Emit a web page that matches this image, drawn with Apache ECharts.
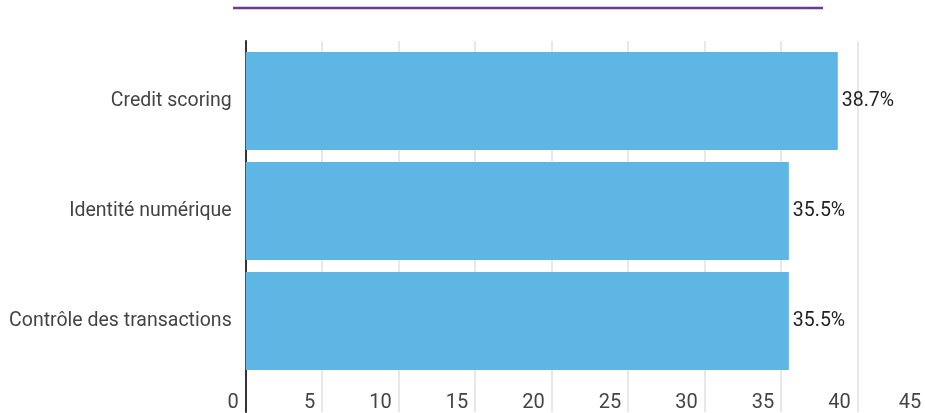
<!DOCTYPE html>
<html><head><meta charset="utf-8">
<script src="https://cdn.jsdelivr.net/npm/echarts@6/dist/echarts.min.js"></script>
<style>html,body{margin:0;padding:0;background:#fff;overflow:hidden}#c{width:935px;height:413px}</style>
</head><body><div id="c"></div>
<script>
const categories = ['Credit scoring', 'Identité numérique', 'Contrôle des transactions'];
const values = [38.7, 35.5, 35.5];
const xTicks = [0, 5, 10, 15, 20, 25, 30, 35, 40, 45];

const chart = echarts.init(document.getElementById('c'), null, {renderer: 'canvas'});
const font = 'Roboto';
chart.setOption({
  animation: false,
  graphic: [{
    type: 'line', shape: {x1: 233, y1: 8, x2: 823, y2: 8},
    style: {stroke: '#6b3a95', lineWidth: 2.5}
  }],
  grid: [
    {left: 245.7, right: 0.8, top: 41, bottom: 0},
    {left: 245.7, right: 0.8, top: 46, bottom: 37}
  ],
  xAxis: [
    {gridIndex: 0, type: 'value', min: 0, max: 45, interval: 5,
     axisLine: {show: false}, axisTick: {show: false},
     splitLine: {show: true, lineStyle: {color: '#e0e0e0', width: 1.5}},
     axisLabel: {inside: true, margin: -1, align: 'right', padding: [0, 7, 0, 0],
       color: '#444', fontFamily: font, fontSize: 20,
       formatter: v => xTicks.includes(v) ? (v === xTicks[xTicks.length - 1] ? '{e|' + v + '}' : String(v)) : '',
       rich: {e: {color: '#444', fontFamily: font, fontSize: 20, padding: [0, 6, 0, 0]}}}},
    {gridIndex: 1, type: 'value', min: 0, max: 45, show: false}
  ],
  yAxis: [
    {gridIndex: 0, type: 'value', show: true, axisLabel: {show: false},
     splitLine: {show: false}, axisTick: {show: false},
     axisLine: {show: true, lineStyle: {color: '#333', width: 2}}},
    {gridIndex: 1, type: 'category', data: categories, inverse: true,
     axisLine: {show: false}, axisTick: {show: false},
     axisLabel: {margin: 14, color: '#444', fontFamily: font, fontSize: 19.5}}
  ],
  series: [{
    type: 'bar', xAxisIndex: 1, yAxisIndex: 1, data: values,
    barCategoryGap: '11%',
    itemStyle: {color: '#5eb6e4'},
    label: {show: true, position: 'right', distance: 4, color: '#222',
      fontFamily: font, fontSize: 19.5, formatter: p => p.value + '%'}
  }]
});
</script></body></html>
